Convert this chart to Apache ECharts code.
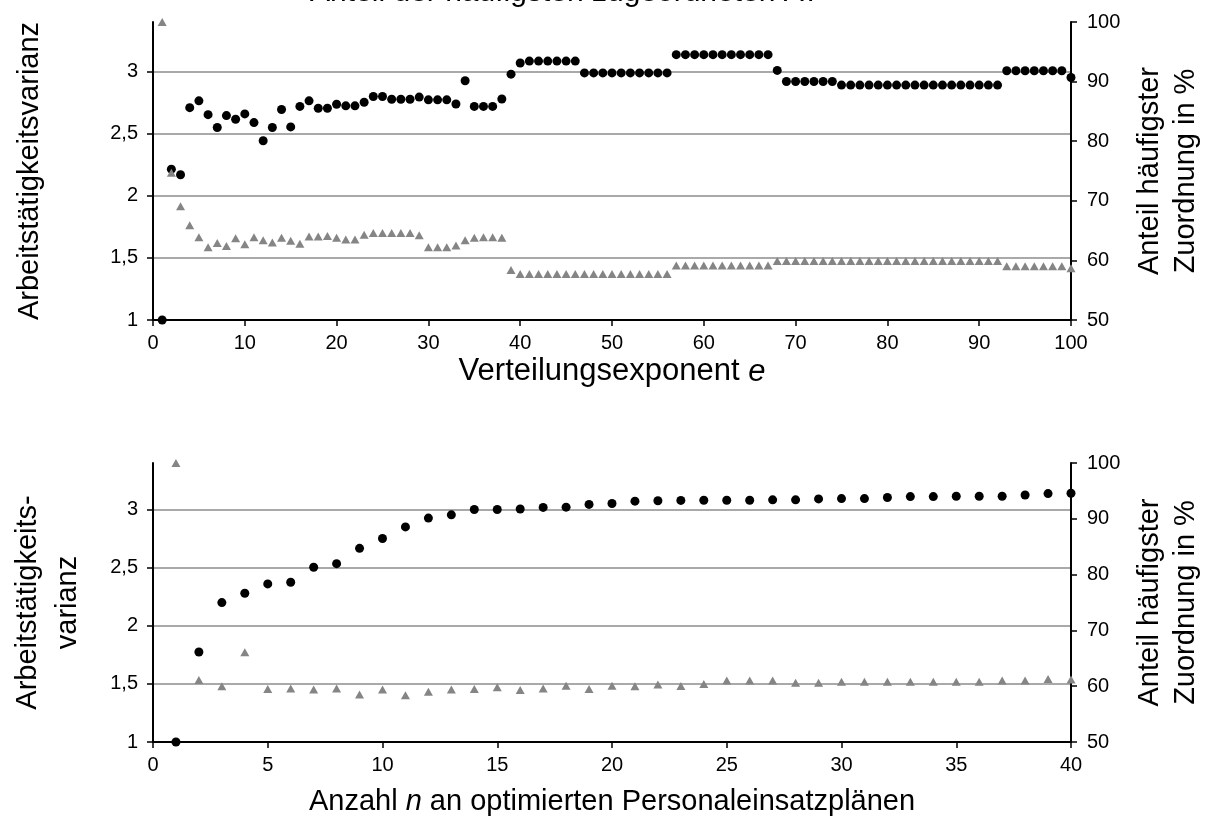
<!DOCTYPE html>
<html>
<head>
<meta charset="utf-8">
<script src="https://cdn.jsdelivr.net/npm/echarts@6/dist/echarts.min.js"></script>
<style>
html,body{margin:0;padding:0;background:#fff}
#main{width:1212px;height:821px}
</style>
</head>
<body>
<div id="main"></div>
<script>
// oben: Verteilungsexponent e = 1..100
var varianzE = [
  1.0, 2.215, 2.17, 2.71, 2.765, 2.654, 2.55, 2.646, 2.617, 2.66,
  2.59, 2.444, 2.55, 2.695, 2.555, 2.72, 2.765, 2.705, 2.705, 2.738,
  2.725, 2.725, 2.754, 2.80, 2.80, 2.778, 2.778, 2.778, 2.795, 2.773,
  2.773, 2.773, 2.74, 2.927, 2.72, 2.72, 2.72, 2.78, 2.98, 3.07,
  3.085, 3.085, 3.085, 3.085, 3.085, 3.085, 2.99, 2.99, 2.99, 2.99,
  2.99, 2.99, 2.99, 2.99, 2.99, 2.99, 3.137, 3.137, 3.137, 3.137,
  3.137, 3.137, 3.137, 3.137, 3.137, 3.137, 3.137, 3.01, 2.921, 2.921,
  2.921, 2.921, 2.921, 2.921, 2.892, 2.892, 2.892, 2.892, 2.892, 2.892,
  2.892, 2.892, 2.892, 2.892, 2.892, 2.892, 2.892, 2.892, 2.892, 2.892,
  2.892, 2.892, 3.007, 3.007, 3.007, 3.007, 3.007, 3.007, 3.007, 2.953
];
var anteilE = [
  100, 74.7, 69.1, 65.9, 63.9, 62.2, 62.9, 62.4, 63.7, 62.7,
  63.9, 63.4, 63.0, 63.8, 63.3, 62.8, 64.0, 64.0, 64.1, 63.8,
  63.5, 63.5, 64.3, 64.6, 64.6, 64.6, 64.6, 64.6, 64.2, 62.2,
  62.2, 62.2, 62.5, 63.4, 63.8, 63.9, 63.9, 63.8, 58.4, 57.7,
  57.7, 57.7, 57.7, 57.7, 57.7, 57.7, 57.7, 57.7, 57.7, 57.7,
  57.7, 57.7, 57.7, 57.7, 57.7, 57.7, 59.15, 59.15, 59.15, 59.15,
  59.15, 59.15, 59.15, 59.15, 59.15, 59.15, 59.15, 59.9, 59.9, 59.9,
  59.9, 59.9, 59.9, 59.9, 59.9, 59.9, 59.9, 59.9, 59.9, 59.9,
  59.9, 59.9, 59.9, 59.9, 59.9, 59.9, 59.9, 59.9, 59.9, 59.9,
  59.9, 59.9, 59.0, 59.0, 59.0, 59.0, 59.0, 59.0, 59.0, 58.7
];
// unten: Anzahl n = 1..40
var varianzN = [
  1.0, 1.774, 2.199, 2.28, 2.36, 2.374, 2.503, 2.534, 2.666, 2.751,
  2.85, 2.926, 2.954, 3.0, 3.0, 3.004, 3.018, 3.02, 3.044, 3.052,
  3.072, 3.075, 3.078, 3.08, 3.08, 3.08, 3.083, 3.083, 3.091, 3.094,
  3.094, 3.103, 3.111, 3.111, 3.114, 3.114, 3.114, 3.125, 3.137, 3.14
];
var anteilN = [
  100, 61.1, 60.0, 66.1, 59.5, 59.6, 59.4, 59.6, 58.5, 59.4,
  58.4, 59.0, 59.4, 59.5, 59.8, 59.3, 59.6, 60.1, 59.5, 60.1,
  60.0, 60.3, 60.05, 60.4, 61.0, 61.0, 61.0, 60.6, 60.6, 60.8,
  60.8, 60.8, 60.8, 60.8, 60.8, 60.8, 61.0, 61.0, 61.3, 61.2
];
var leftTicks = [1, 1.5, 2, 2.5, 3];
var titelText = 'Anteil der häufigsten zugeordneten AT';

var FONT = '"Liberation Sans", Arial, sans-serif';

function pairs(arr) {
  var out = [];
  for (var i = 0; i < arr.length; i++) {
    out.push([i + 1, arr[i]]);
  }
  return out;
}
function komma(v) {
  return String(v).replace('.', ',');
}

function xAxisDef(idx, max, interval, name, gap, fs) {
  return {
    type: 'value', gridIndex: idx, min: 0, max: max, interval: interval,
    name: name, nameLocation: 'middle', nameGap: gap,
    nameTextStyle: {
      fontFamily: FONT, fontSize: fs, color: '#000', lineHeight: 36,
      rich: {it: {fontFamily: FONT, fontSize: fs, fontStyle: 'italic', color: '#000', lineHeight: 36}}
    },
    axisLine: {show: true, onZero: false, lineStyle: {color: '#000', width: 2}},
    axisTick: {show: true, inside: false, length: 6, lineStyle: {color: '#000', width: 1.5}},
    axisLabel: {fontFamily: FONT, fontSize: 20, color: '#000', margin: 13},
    splitLine: {show: false}
  };
}
function leftAxisDef(idx, name, gap, lh) {
  return {
    type: 'value', gridIndex: idx, position: 'left', min: 1, max: 3.4, interval: 0.5,
    name: name, nameLocation: 'middle', nameGap: gap, nameRotate: 90,
    nameTextStyle: {fontFamily: FONT, fontSize: 29, color: '#000', lineHeight: lh},
    axisLine: {show: true, onZero: false, lineStyle: {color: '#000', width: 2}},
    axisTick: {show: true, length: 6, customValues: leftTicks, lineStyle: {color: '#000', width: 1.5}},
    axisLabel: {fontFamily: FONT, fontSize: 20, color: '#000', margin: 15,
      customValues: leftTicks, formatter: komma},
    splitLine: {show: true, showMinLine: false, showMaxLine: true,
      lineStyle: {color: '#8c8c8c', width: 1.5}}
  };
}
function rightAxisDef(idx) {
  return {
    type: 'value', gridIndex: idx, position: 'right', min: 50, max: 100, interval: 10,
    name: 'Anteil häufigster\nZuordnung in %', nameLocation: 'middle', nameGap: 61, nameRotate: 90,
    nameTextStyle: {fontFamily: FONT, fontSize: 29, color: '#000', lineHeight: 36},
    axisLine: {show: true, onZero: false, lineStyle: {color: '#000', width: 2}},
    axisTick: {show: true, length: 6, lineStyle: {color: '#000', width: 1.5}},
    axisLabel: {fontFamily: FONT, fontSize: 20, color: '#000', margin: 16},
    splitLine: {show: false}
  };
}
function punkte(xi, yi, arr) {
  return {type: 'scatter', xAxisIndex: xi, yAxisIndex: yi, data: pairs(arr),
    symbol: 'circle', symbolSize: 9, itemStyle: {color: '#000', opacity: 1},
    silent: true, clip: false, z: 2};
}
function dreiecke(xi, yi, arr) {
  return {type: 'scatter', xAxisIndex: xi, yAxisIndex: yi, data: pairs(arr),
    symbol: 'triangle', symbolSize: [9, 8], itemStyle: {color: '#858585', opacity: 1},
    silent: true, clip: false, z: 3};
}

var myChart = echarts.init(document.getElementById('main'), null, {renderer: 'canvas'});
var option = {
  backgroundColor: '#fff',
  animation: false,
  graphic: [{
    type: 'text', x: 565, y: -7.5,
    style: {text: titelText, font: '30px ' + FONT, fill: '#000', textAlign: 'center', textVerticalAlign: 'middle'}
  }],
  grid: [
    {left: 153, top: 22, width: 920, height: 298},
    {left: 152, top: 463, width: 920, height: 284}
  ],
  xAxis: [
    xAxisDef(0, 100, 10, 'Verteilungsexponent {it|e}', 24, 31),
    xAxisDef(1, 40, 5, 'Anzahl {it|n} an optimierten Personaleinsatzplänen', 42, 29)
  ],
  yAxis: [
    leftAxisDef(0, 'Arbeitstätigkeitsvarianz', 105, 36),
    rightAxisDef(0),
    leftAxisDef(1, 'Arbeitstätigkeits-\nvarianz', 65, 40),
    rightAxisDef(1)
  ],
  series: [
    punkte(0, 0, varianzE),
    dreiecke(0, 1, anteilE),
    punkte(1, 2, varianzN),
    dreiecke(1, 3, anteilN)
  ]
};
myChart.setOption(option);
</script>
</body>
</html>
